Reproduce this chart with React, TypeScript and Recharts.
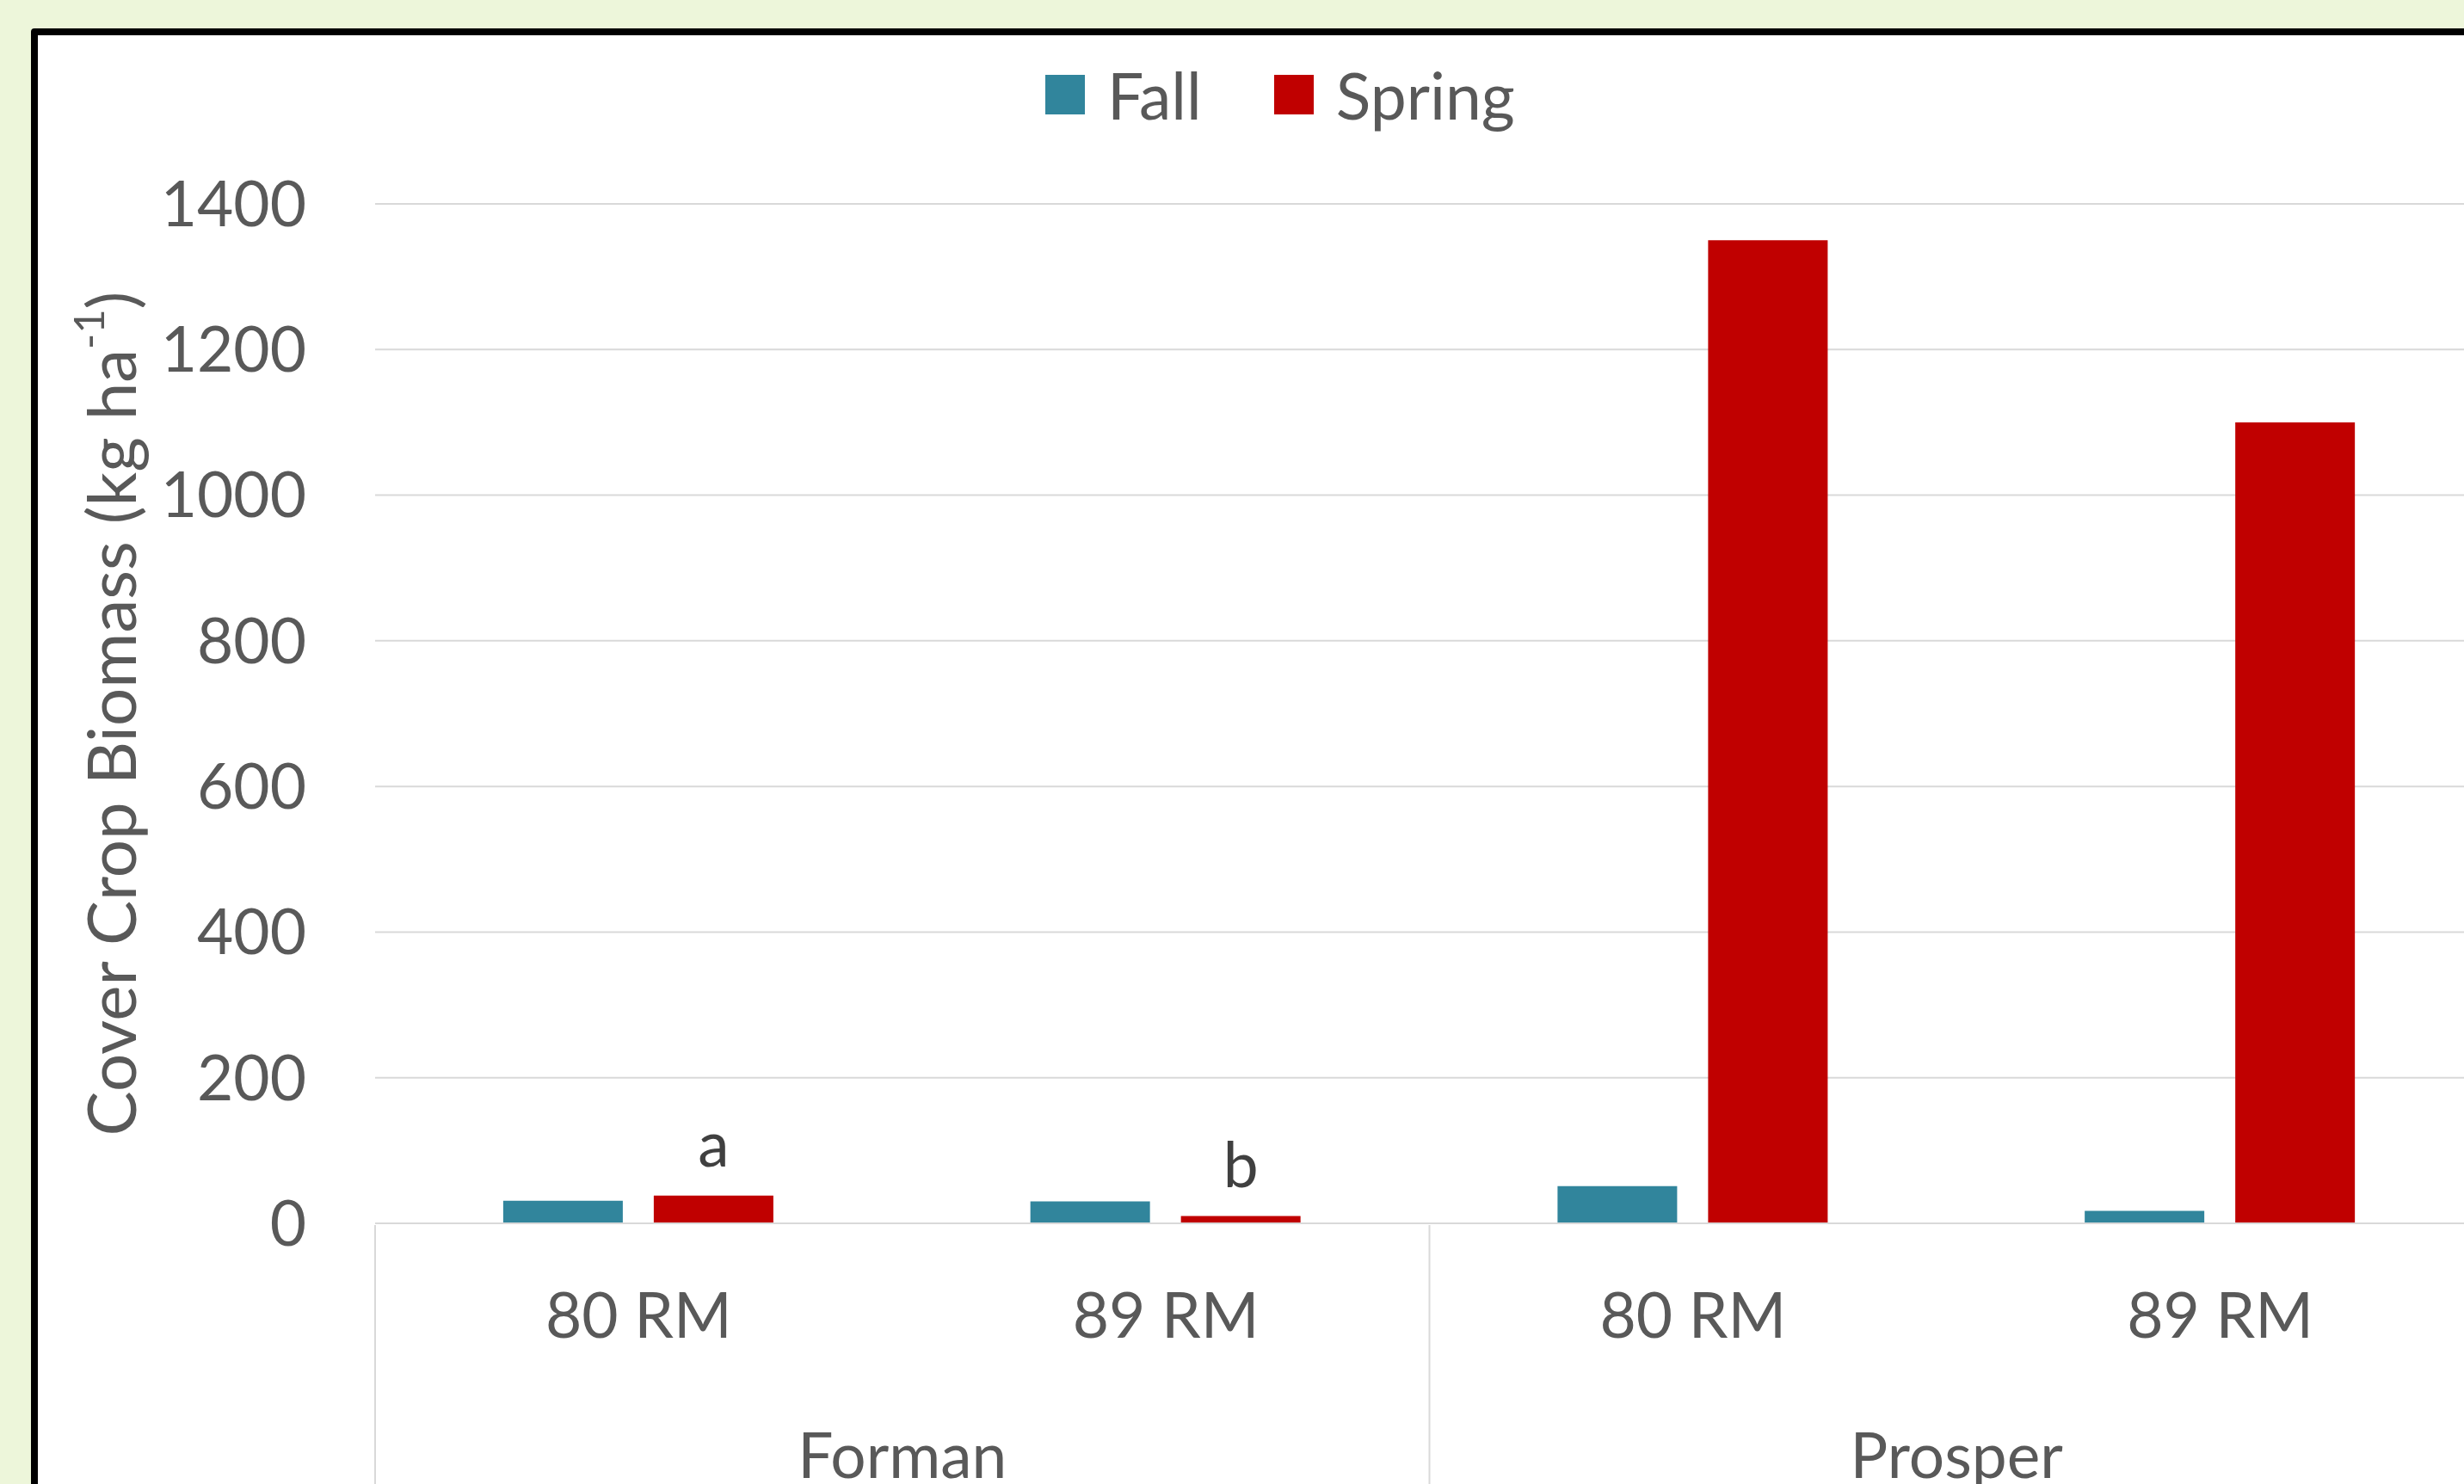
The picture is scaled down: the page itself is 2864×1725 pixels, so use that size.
import React from "react";
import {
  BarChart,
  Bar,
  XAxis,
  YAxis,
  CartesianGrid,
  Legend,
  LabelList,
} from "recharts";

// categories
const varieties = ["80 RM", "89 RM", "80 RM", "89 RM"];
const sites = ["Forman", "Forman", "Prosper", "Prosper"];

// biomass (kg ha-1)
const fallValues = [31, 30, 51, 17];
const springValues = [38, 10, 1350, 1100];
const springLetters = ["a", "b", "", ""];

const yTicks = [0, 200, 400, 600, 800, 1000, 1200, 1400];

const data = varieties.map((v, i) => ({
  variety: v,
  site: sites[i],
  fall: fallValues[i],
  spring: springValues[i],
  letter: springLetters[i],
}));

const TEXT = "#595959";
const GRID = "#D9D9D9";
const FONT = 73;
const AXIS1_HEIGHT = 150;

const YTitle = (props: any) => {
  const vb = props.viewBox || {};
  const cx = vb.x - 108;
  const cy = vb.y + vb.height / 2;
  return (
    <text
      x={cx}
      y={cy}
      transform={`rotate(-90, ${cx}, ${cy})`}
      textAnchor="middle"
      dominantBaseline="central"
      fill={TEXT}
      fontSize={78}
    >
      Cover Crop Biomass (kg ha
      <tspan dy={-26} fontSize={49}>
        -1
      </tspan>
      <tspan dy={26}>)</tspan>
    </text>
  );
};

// second level of the category axis: site names + separators
const SiteTick = (props: any) => {
  const { x, y, payload } = props;
  const i = payload.index;
  const half = payload.offset || 0;
  const first = i === 0 || sites[i - 1] !== sites[i];
  const last = i === sites.length - 1;
  return (
    <g>
      {first && (
        <line
          x1={x - half}
          x2={x - half}
          y1={y - AXIS1_HEIGHT}
          y2={y + 400}
          stroke={GRID}
          strokeWidth={2}
        />
      )}
      {last && (
        <line
          x1={x + half}
          x2={x + half}
          y1={y - AXIS1_HEIGHT}
          y2={y + 400}
          stroke={GRID}
          strokeWidth={2}
        />
      )}
      {first && (
        <text
          x={x + half}
          y={y + 92}
          dy="0.71em"
          textAnchor="middle"
          fill={TEXT}
          fontSize={FONT}
        >
          {payload.value}
        </text>
      )}
    </g>
  );
};

const LegendContent = (props: any) => {
  const items = props.payload || [];
  return (
    <div
      style={{
        display: "flex",
        alignItems: "center",
        paddingLeft: 979,
        marginTop: 67,
        height: 46,
      }}
    >
      {items.map((it: any) => (
        <div
          key={it.value}
          style={{ display: "flex", alignItems: "center", marginRight: 84 }}
        >
          <div
            style={{ width: 46, height: 46, background: it.color, marginRight: 26 }}
          />
          <span style={{ fontSize: 75, color: TEXT, lineHeight: "46px" }}>
            {it.value}
          </span>
        </div>
      ))}
    </div>
  );
};

export default function App() {
  return (
    <div
      style={{
        position: "absolute",
        left: 0,
        top: 0,
        width: 2864,
        height: 1725,
        overflow: "hidden",
        background: "#EDF6DA",
        fontFamily: "Lato, sans-serif",
      }}
    >
      <div
        style={{
          position: "absolute",
          left: 36,
          top: 33,
          width: 3000,
          height: 2000,
          border: "8px solid #000",
          borderRadius: 4,
          background: "#fff",
        }}
      />
      <div style={{ position: "absolute", left: 0, top: 0 }}>
        <BarChart
          width={2950}
          height={1772}
          data={data}
          margin={{ top: 20, right: 63, left: 236, bottom: 0 }}
          barCategoryGap="24.3%"
          barGap={36}
          style={{ fontFamily: "Lato, sans-serif" }}
        >
          <CartesianGrid vertical={false} stroke={GRID} strokeWidth={2} />
          <Legend
            verticalAlign="top"
            height={217}
            content={<LegendContent />}
          />
          <XAxis
            dataKey="variety"
            height={AXIS1_HEIGHT}
            tickLine={false}
            tickSize={0}
            tickMargin={81}
            axisLine={{ stroke: GRID, strokeWidth: 2 }}
            tick={{ fill: TEXT, fontSize: FONT }}
            interval={0}
          />
          <XAxis
            xAxisId="site"
            dataKey="site"
            height={200}
            axisLine={false}
            tickLine={false}
            tickSize={0}
            interval={0}
            tick={<SiteTick />}
          />
          <YAxis
            width={200}
            domain={[0, 1400]}
            ticks={yTicks}
            axisLine={false}
            tickLine={false}
            tickSize={0}
            tickMargin={80}
            tick={{ fill: TEXT, fontSize: FONT }}
            label={<YTitle />}
          />
          <Bar dataKey="fall" name="Fall" fill="#31859C" isAnimationActive={false} />
          <Bar dataKey="spring" name="Spring" fill="#C00000" isAnimationActive={false}>
            <LabelList
              dataKey="letter"
              position="top"
              offset={34}
              fill="#404040"
              fontSize={FONT}
            />
          </Bar>
        </BarChart>
      </div>
    </div>
  );
}
